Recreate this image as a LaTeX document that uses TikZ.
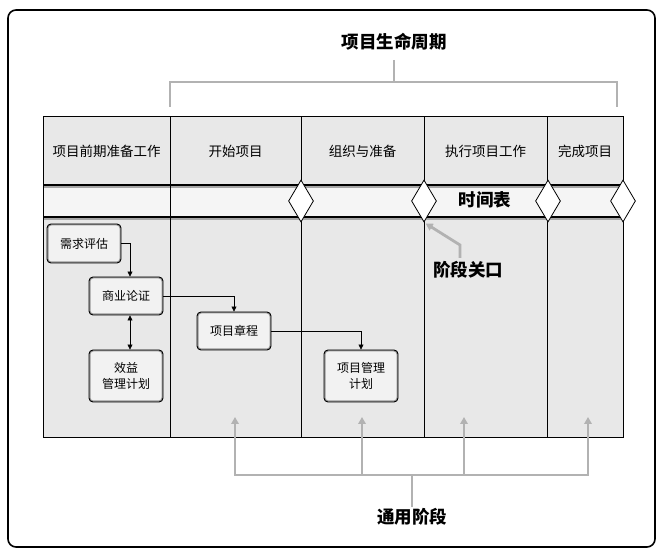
\documentclass[tikz,border=0pt]{standalone}
\usepackage{fontspec}
\setmainfont{Noto Sans CJK SC}
\usepackage{tikz}
\usetikzlibrary{shapes.geometric,arrows.meta,positioning}

\tikzset{
  headtext/.style={font=\fontsize{13.5}{16}\selectfont},
  title/.style={font=\fontsize{17.5}{20}\selectfont\bfseries, inner sep=1pt},
  task/.style={draw=black, line width=0.9pt, rounded corners=4pt, fill=black!5,
    minimum width=74pt, align=center, inner sep=2pt,
    font=\fontsize{12}{16}\selectfont,
    path picture={\draw[black!40, line width=3pt, rounded corners=4pt]
      (path picture bounding box.south west) rectangle (path picture bounding box.north east);}},
  gate/.style={diamond, draw=black, line width=0.8pt, fill=white, inner sep=0pt,
    minimum width=25pt, minimum height=42pt},
  flow/.style={line width=0.6pt, -{Triangle[length=5pt,width=5pt]}},
  bracket/.style={draw=black!30, line width=2.8pt},
  pointer/.style={bracket, -{Triangle[length=7pt,width=7.5pt]}}
}

\begin{document}
\begin{tikzpicture}[x=1pt,y=-1pt]
            \useasboundingbox (0,0) rectangle (662,553);
            % Frame
            \draw[line width=1.6pt, rounded corners=8pt] (8,10) rectangle (655,547);
            % Table background
            \fill[black!9] (43,117) rectangle (623,438);
            \fill[black!4] (43,185) rectangle (623,217);
            \draw[black!35, line width=1.2pt] (43,187) -- (623,187);
            \draw[black!35, line width=1.2pt] (43,219) -- (623,219);
            \draw[line width=1pt] (43,117) rectangle (623,438);
            \draw[line width=1.3pt] (43,185) -- (623,185);
            \draw[line width=1.3pt] (43,217) -- (623,217);
            \foreach \x in {170,301,424,547}
              \draw[line width=0.8pt] (\x,117) -- (\x,438);
            % Phase names
            \node[headtext] (pre) at (106.5,151) {项目前期准备工作};
            \node[headtext] (start) at (235.5,151) {开始项目};
            \node[headtext] (org) at (362.5,151) {组织与准备};
            \node[headtext] (exec) at (485.5,151) {执行项目工作};
            \node[headtext] (close) at (585,151) {完成项目};
            % Gates on the time line
            \foreach \x [count=\i] in {301,424,548,623}
              \node[gate] (g\i) at (\x,201) {};
            \node[title] (sched) at (485,200) {时间表};
            % Tasks
            \node[task, minimum height=39pt] (needs) at (84,243.5) {需求评估};
            \node[task, minimum height=38pt] (case) at (126,296) {商业论证};
            \node[task, minimum height=52pt] (benefit) at (126,376) {效益\\管理计划};
            \node[task, minimum height=38pt] (charter) at (234,331) {项目章程};
            \node[task, minimum height=52pt] (pmplan) at (361,376) {项目管理\\计划};
            \draw[flow] (needs.east) -| ([xshift=4pt]case.north);
            \draw[flow, {Triangle[length=5pt,width=5pt]}-{Triangle[length=5pt,width=5pt]}]
              ([xshift=4pt]case.south) -- ([xshift=4pt]benefit.north);
            \draw[flow] (case.east) -| (charter.north);
            \draw[flow] (charter.east) -| (pmplan.north);
            % Life cycle bracket
            \node[title] (life) at (394,42) {项目生命周期};
            \coordinate (lifetop) at (394,60);
            \coordinate (lifemid) at (394,82);
            \coordinate (lifeL) at (170,107);
            \coordinate (lifeR) at (617,107);
            \draw[bracket] (lifetop) -- (lifemid);
            \draw[bracket] (lifeL) |- (lifemid) -| (lifeR);
            % Phase gate label
            \node[title] (gatelbl) at (468,270) {阶段关口};
            \coordinate (gatefoot) at (460,258);
            \coordinate (gatebend) at (460,245);
            \draw[pointer, shorten >=2pt] (gatefoot) -- (gatebend) -- (g2.south);
            % Generic phases
            \node[title] (common) at (412,517) {通用阶段};
            \coordinate (cmid) at (412,475);
            \draw[bracket] (common.north) -- (cmid);
            \foreach \x [count=\i] in {235,362,464,588} {
              \coordinate (p\i) at (\x,417);
              \draw[pointer] (cmid) -| (p\i);
            }
          \end{tikzpicture}
\end{document}
